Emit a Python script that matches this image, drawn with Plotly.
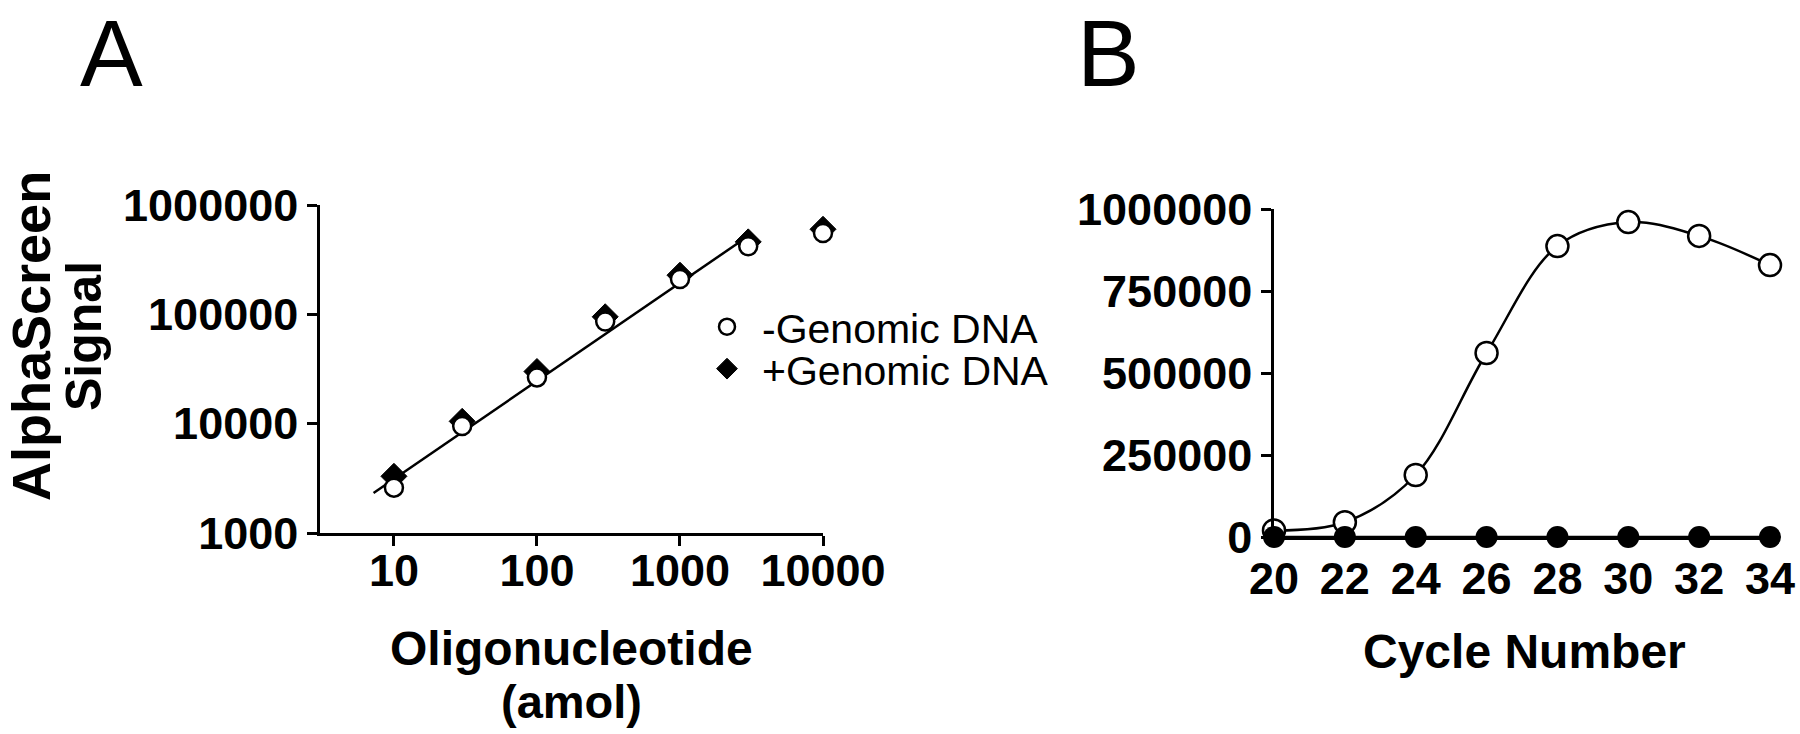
import plotly.graph_objects as go

# ---------------- Panel A data ----------------
oligo_amol = [10, 30, 100, 300, 1000, 3000, 10000]
signal_minus_gdna = [2600, 9500, 26500, 86000, 210000, 420000, 555000]
signal_plus_gdna = [3300, 10500, 30000, 95000, 228000, 460000, 600000]
err_minus_low = [300, 0, 0, 0, 0, 0, 0]
fit_x = [7.2, 3100]
fit_y = [2320, 535000]
a_xtick_vals = [10, 100, 1000, 10000]
a_xtick_text = ["10", "100", "1000", "10000"]
a_ytick_vals = [1000, 10000, 100000, 1000000]
a_ytick_text = ["1000", "10000", "100000", "1000000"]

# ---------------- Panel B data ----------------
cycle_number = [20, 22, 24, 26, 28, 30, 32, 34]
signal_open = [20000, 45000, 189000, 561000, 887000, 960000, 918000, 829000]
signal_filled = [0, 0, 0, 0, 0, 0, 0, 0]
b_ytick_vals = [0, 250000, 500000, 750000, 1000000]
b_ytick_text = ["0", "250000", "500000", "750000", "1000000"]

FONT = "Liberation Sans, Arial, Helvetica, sans-serif"
W, H = 1800, 734

def px(x):
    return x / W

def py(y):
    return (H - y) / H

fig = go.Figure()

# Panel A
fig.add_trace(go.Scatter(x=fit_x, y=fit_y, mode="lines",
                         line=dict(color="black", width=2.5),
                         showlegend=False, xaxis="x", yaxis="y", hoverinfo="skip"))
fig.add_trace(go.Scatter(x=oligo_amol, y=signal_plus_gdna, mode="markers",
                         name="+Genomic DNA", legend="legend2",
                         marker=dict(symbol="diamond", size=20, color="black",
                                     line=dict(color="black", width=1)),
                         xaxis="x", yaxis="y", cliponaxis=False))
fig.add_trace(go.Scatter(x=oligo_amol, y=signal_minus_gdna, mode="markers",
                         name="-Genomic DNA", legend="legend",
                         error_y=dict(type="data", symmetric=False,
                                      array=[0] * len(err_minus_low),
                                      arrayminus=err_minus_low,
                                      color="black", thickness=2.5, width=7),
                         marker=dict(symbol="circle", size=18, color="white",
                                     line=dict(color="black", width=2.5)),
                         xaxis="x", yaxis="y", cliponaxis=False))

# Panel B
fig.add_trace(go.Scatter(x=cycle_number, y=signal_open, mode="lines+markers",
                         line=dict(color="black", width=2.5, shape="spline", smoothing=1.0),
                         marker=dict(symbol="circle", size=22, color="white",
                                     line=dict(color="black", width=2.5)),
                         showlegend=False, xaxis="x2", yaxis="y2", cliponaxis=False))
fig.add_trace(go.Scatter(x=cycle_number, y=signal_filled, mode="lines+markers",
                         line=dict(color="black", width=2.5),
                         marker=dict(symbol="circle", size=22, color="black"),
                         showlegend=False, xaxis="x2", yaxis="y2", cliponaxis=False))

tickfont = dict(family=FONT, size=45, color="black", weight="bold")
axis_common = dict(showline=True, linecolor="black", linewidth=2.5,
                   showgrid=False, zeroline=False, tickfont=tickfont,
                   tickcolor="black", tickwidth=2.5, automargin=False)

legend_font = dict(family=FONT, size=41, color="black")

fig.update_layout(
    width=W, height=H,
    margin=dict(l=0, r=0, t=0, b=0, pad=0, autoexpand=False),
    paper_bgcolor="white", plot_bgcolor="white",
    font=dict(family=FONT, color="black"),
    xaxis=dict(type="log", range=[0.483, 4.0], domain=[px(320), px(823)],
               anchor="y", tickmode="array", tickvals=a_xtick_vals,
               ticktext=a_xtick_text, ticks="outside", ticklen=10,
               ticklabelstandoff=-14, **axis_common),
    yaxis=dict(type="log", range=[3, 6], domain=[py(533), py(205)],
               anchor="x", tickmode="array", tickvals=a_ytick_vals,
               ticktext=a_ytick_text, ticks="outside", ticklen=10, **axis_common),
    xaxis2=dict(range=[20, 34], domain=[px(1274), px(1770)], anchor="y2",
                tickmode="array", tickvals=cycle_number,
                ticktext=[str(c) for c in cycle_number],
                ticks="", ticklabelstandoff=0, **axis_common),
    yaxis2=dict(range=[0, 1000000], domain=[py(537), py(209)], anchor="x2",
                tickmode="array", tickvals=b_ytick_vals, ticktext=b_ytick_text,
                ticks="outside", ticklen=10, **axis_common),
    legend=dict(x=px(692), y=py(327), xanchor="left", yanchor="middle",
                itemwidth=60, font=legend_font,
                bgcolor="rgba(0,0,0,0)", borderwidth=0),
    legend2=dict(x=px(692), y=py(369), xanchor="left", yanchor="middle",
                 itemwidth=60, font=legend_font,
                 bgcolor="rgba(0,0,0,0)", borderwidth=0),
    annotations=[
        dict(text="A", x=px(111), y=1.0, xref="paper", yref="paper",
             showarrow=False, borderpad=0,
             font=dict(family=FONT, size=94, color="black"),
             xanchor="center", yanchor="top"),
        dict(text="B", x=px(1108), y=1.0, xref="paper", yref="paper",
             showarrow=False, borderpad=0,
             font=dict(family=FONT, size=94, color="black"),
             xanchor="center", yanchor="top"),
        dict(text="AlphaScreen", x=px(31), y=py(336), xref="paper", yref="paper",
             showarrow=False, textangle=-90,
             font=dict(family=FONT, size=54, color="black", weight="bold"),
             xanchor="center", yanchor="middle"),
        dict(text="Signal", x=px(84), y=py(336), xref="paper", yref="paper",
             showarrow=False, textangle=-90,
             font=dict(family=FONT, size=50, color="black", weight="bold"),
             xanchor="center", yanchor="middle"),
        dict(text="Oligonucleotide", x=px(571), y=py(648), xref="paper", yref="paper",
             showarrow=False,
             font=dict(family=FONT, size=48, color="black", weight="bold"),
             xanchor="center", yanchor="middle"),
        dict(text="(amol)", x=px(571), y=py(701), xref="paper", yref="paper",
             showarrow=False,
             font=dict(family=FONT, size=47, color="black", weight="bold"),
             xanchor="center", yanchor="middle"),
        dict(text="Cycle Number", x=px(1524), y=py(651), xref="paper", yref="paper",
             showarrow=False,
             font=dict(family=FONT, size=48, color="black", weight="bold"),
             xanchor="center", yanchor="middle"),
    ],
)

fig.write_html(
    "out.html",
    config={"displayModeBar": False},
    post_script="document.body.style.margin='0';document.body.style.overflow='hidden';",
)
